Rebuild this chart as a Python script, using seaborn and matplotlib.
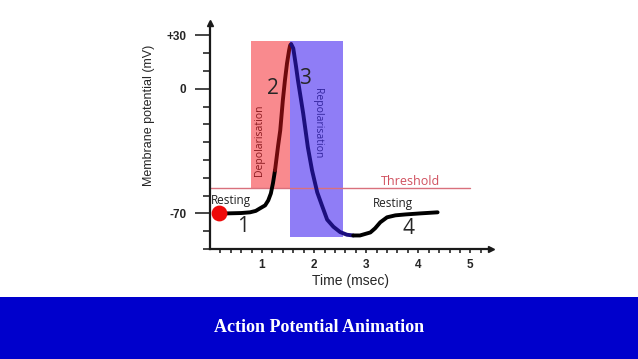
import numpy as np
import pandas as pd
import matplotlib
matplotlib.use("Agg")
import matplotlib.pyplot as plt
from matplotlib.patches import Rectangle
from matplotlib.ticker import FixedLocator
import seaborn as sns

# curve, split by phase (ms, mV)
rest_x = [0.17, 0.33, 0.6, 0.77, 0.88, 0.96, 1.06, 1.12, 1.17, 1.21, 1.25]
rest_y = [-70.0, -70.0, -69.8, -69.4, -68.6, -67.2, -65.5, -62.7, -58.8, -53.1, -45.8]
depol_x = [1.25, 1.31, 1.35, 1.40, 1.44, 1.48, 1.52, 1.54, 1.56]
depol_y = [-45.8, -31.8, -23.4, -6.5, 4.7, 14.3, 21.6, 24.4, 25.0]
repol_x = [1.56, 1.60, 1.65, 1.69, 1.79, 1.88, 1.96, 2.06, 2.15, 2.25,
           2.37, 2.50, 2.63, 2.75]
repol_y = [25.0, 22.7, 13.1, 4.7, -13.8, -32.9, -45.8, -58.2, -65.5, -73.5,
           -77.5, -80.5, -82.0, -82.4]
recov_x = [2.75, 2.88, 3.08, 3.17, 3.27, 3.40, 3.56, 3.75, 4.04, 4.37]
recov_y = [-82.4, -82.4, -80.7, -78.4, -75.0, -72.2, -71.1, -70.6, -70.0, -69.4]

threshold = -56
phase_labels = ["1", "2", "3", "4"]
y_major = [30, 0, -70]
y_major_labels = ["+30", "0", "-70"]
x_major = [1, 2, 3, 4, 5]

sns.set_style("white")
plt.rcParams["font.family"] = ["Liberation Sans", "DejaVu Sans"]

fig = plt.figure(figsize=(6.38, 3.59), dpi=100)
ax = fig.add_axes([0.329, 0.3064, 0.441, 0.63])
ax.set_xlim(0, 5.4)
ax.set_ylim(-90, 37)

# shaded phases
ax.add_patch(Rectangle((0.79, threshold), 1.54 - 0.79, 26.6 - threshold,
                       color="#f98a8e", lw=0, zorder=1))
ax.add_patch(Rectangle((1.54, -83), 2.56 - 1.54, 26.6 + 83,
                       color="#8f7df6", lw=0, zorder=1))

# threshold line
ax.plot([0, 5.0], [threshold, threshold], color="#d9707c", lw=1, zorder=2)

segs = [(rest_x, rest_y, "black"), (depol_x, depol_y, "#6e0a0c"),
        (repol_x, repol_y, "#1c0f7e"), (recov_x, recov_y, "black")]
for xs, ys, c in segs:
    df = pd.DataFrame({"t": xs, "v": ys})
    sns.lineplot(data=df, x="t", y="v", ax=ax, color=c, lw=2.8,
                 estimator=None, sort=False, zorder=3,
                 solid_capstyle="round", solid_joinstyle="round")

ax.scatter([rest_x[0]], [rest_y[0]], s=130, color="#ee0a0a", zorder=4, lw=0)

txt = dict(family=["Open Sans", "DejaVu Sans"])
ax.text(0.02, -64.5, "Resting", fontsize=8.5, color="#222222", **txt)
ax.text(3.13, -64.4, "Resting", fontsize=8.5, color="#222222", va="center", **txt)
ax.text(3.28, -52.2, "Threshold", fontsize=9, color="#d0505e", va="center", **txt)
ax.text(0.63, -77.5, phase_labels[0], fontsize=15, ha="center", va="center", **txt)
ax.text(1.21, 0.2, phase_labels[1], fontsize=15, ha="center", va="center", **txt)
ax.text(1.83, 5.8, phase_labels[2], fontsize=15, ha="center", va="center", **txt)
ax.text(3.81, -78.5, phase_labels[3], fontsize=15, ha="center", va="center", **txt)
ax.text(0.96, -29, "Depolarisation", fontsize=7.5, rotation=90, color="#8b1a1f",
        ha="center", va="center", **txt)
ax.text(2.06, -19.4, "Repolarisation", fontsize=7.5, rotation=-90, color="#33259e",
        ha="center", va="center", **txt)

# axes styling
for s in ["top", "right"]:
    ax.spines[s].set_visible(False)
for s in ["left", "bottom"]:
    ax.spines[s].set_linewidth(1.6)
    ax.spines[s].set_color("#1a1a1a")
ax.plot([0], [1], marker="^", color="#1a1a1a", ms=5, transform=ax.transAxes, clip_on=False)
ax.plot([1], [0], marker=">", color="#1a1a1a", ms=5, transform=ax.transAxes, clip_on=False)

ax.set_yticks(y_major)
ax.set_yticklabels(y_major_labels, fontsize=8.5, fontweight="bold")
ax.yaxis.set_minor_locator(FixedLocator(list(range(-90, 31, 10))))
ax.tick_params(axis="y", which="major", direction="out", length=11, width=1.2, pad=6, left=True)
ax.tick_params(axis="y", which="minor", direction="out", length=5, width=1.2, left=True)

ax.set_xticks(x_major)
ax.set_xticklabels([str(v) for v in x_major], fontsize=8.5, fontweight="bold")
ax.xaxis.set_minor_locator(FixedLocator([round(0.2 * i, 1) for i in range(1, 27)]))
ax.tick_params(axis="x", which="both", direction="out", length=3, width=1.2, pad=4, bottom=True)

ax.set_xlabel("Time (msec)", fontsize=10, labelpad=2)
ax.set_ylabel("Membrane potential (mV)", fontsize=9, labelpad=8)
ax.yaxis.set_label_coords(-0.195, 0.59)

# title banner
fig.patches.append(Rectangle((0, 0), 1, 62 / 359, transform=fig.transFigure,
                             color="#0000cc", lw=0))
fig.text(0.5, 31 / 359, "Action Potential Animation", color="white", fontsize=13,
         fontweight="bold", ha="center", va="center",
         family=["Liberation Serif", "DejaVu Serif"])

fig.savefig("out.png", dpi=100)
